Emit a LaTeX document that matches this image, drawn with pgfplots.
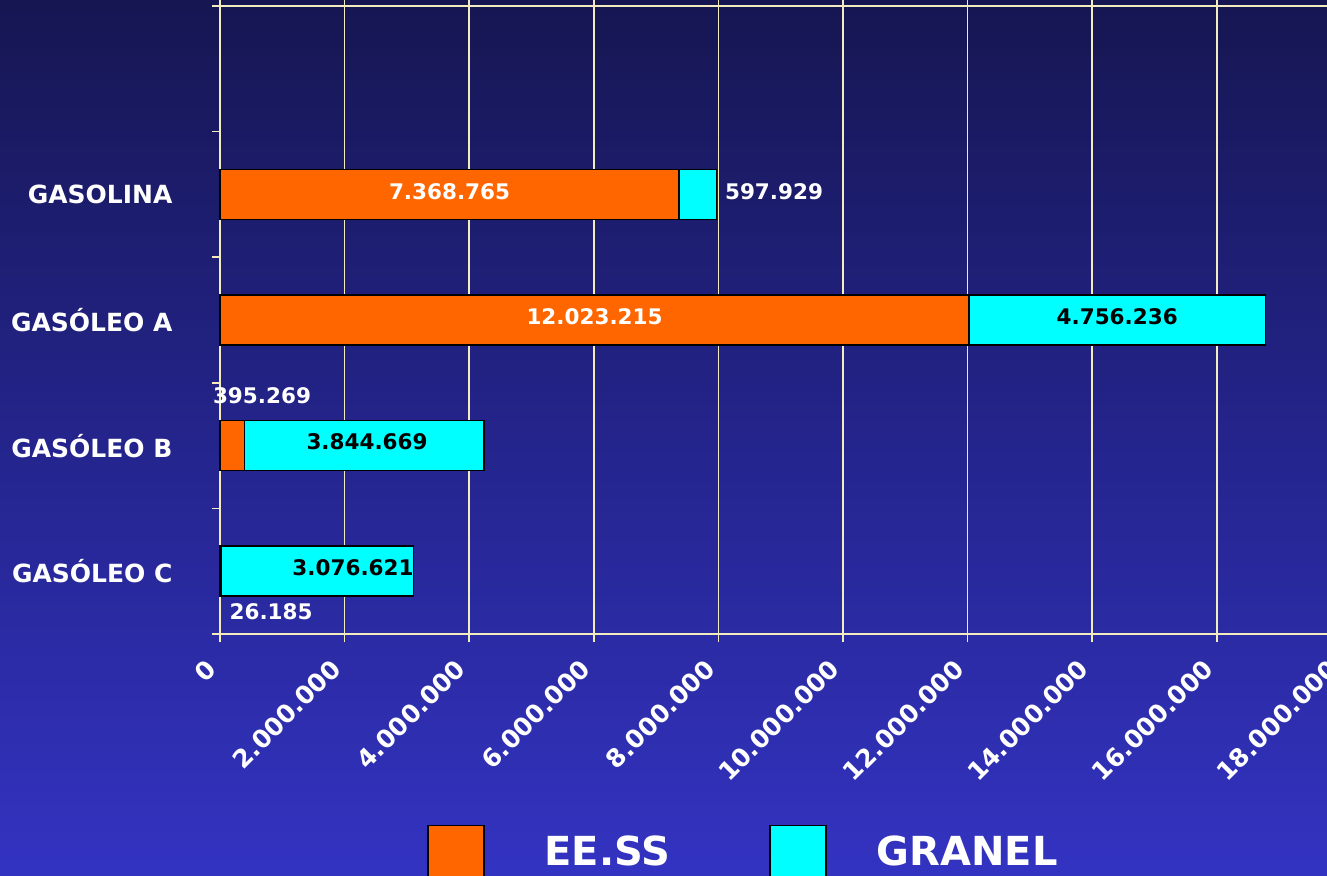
\documentclass[border=0pt]{standalone}
\usepackage{fontspec}
\setmainfont{DejaVu Sans}
\usepackage{pgfplots}
\pgfplotsset{compat=1.18}
\definecolor{bgtop}{RGB}{22,22,82}
\definecolor{bgmid}{RGB}{36,36,140}
\definecolor{bgbot}{RGB}{51,51,194}
\definecolor{cream}{RGB}{242,236,190}
\definecolor{eess}{RGB}{255,102,0}
\definecolor{granel}{RGB}{0,255,255}
\begin{document}
\begin{tikzpicture}
\shade[top color=bgtop, bottom color=bgbot, middle color=bgmid] (0pt,0pt) rectangle (1327pt,-875pt);
\begin{axis}[
  at={(220pt,-6pt)}, anchor=north west,
  scale only axis, width=1121.4pt, height=628pt,
  xbar stacked, bar width=50pt,
  xmin=0, xmax=18000000, ymin=-0.5, ymax=4.5,
  axis line style={cream, line width=1.5pt},
  xtick={0,2000000,4000000,6000000,8000000,10000000,12000000,14000000,16000000,18000000},
  scaled x ticks=false,
  /pgf/number format/fixed,
  /pgf/number format/1000 sep={.},
  /pgf/number format/assume math mode=true,
  xmajorgrids, grid style={cream, line width=1.5pt},
  tick align=outside, major tick length=8pt,
  tick style={cream, line width=1.5pt},
  ytick={-0.5,0.5,1.5,2.5,3.5,4.5}, yticklabels={},
  extra y ticks={0,1,2,3},
  extra y tick labels={GASÓLEO C,GASÓLEO B,GASÓLEO A,GASOLINA},
  extra y tick style={major tick length=0pt,
     yticklabel style={font=\bfseries\fontsize{25}{25}\selectfont, text=white, anchor=east, xshift=-44pt}},
  xticklabel style={font=\bfseries\fontsize{25}{25}\selectfont, text=white, xshift=-6pt, yshift=-20pt, rotate=45, anchor=east},
  legend style={at={(0.1846,-0.304)}, anchor=north west, draw=none, fill=none,
     inner sep=0pt, outer sep=0pt,
     font=\bfseries\fontsize{40}{40}\selectfont, text=white,
     legend columns=2,
     /tikz/column 1/.style={column sep=58pt},
     /tikz/column 2/.style={column sep=97pt},
     /tikz/column 3/.style={column sep=48pt}},
  legend image code/.code={\draw[#1, line width=1.5pt] (0pt,-40pt) rectangle (56pt,26pt);},
  clip=false,
]
\addplot[fill=eess, draw=black, line width=1.5pt] coordinates {(26185,0) (395269,1) (12023215,2) (7368765,3)};
\addplot[fill=granel, draw=black, line width=1.5pt] coordinates {(3076621,0) (3844669,1) (4756236,2) (597929,3)};
\legend{EE.SS,GRANEL}
\coordinate (a1) at (axis cs:3684382,3.02);
\coordinate (a2) at (axis cs:8050000,3.02);
\coordinate (b1) at (axis cs:6011607,2.03);
\coordinate (b2) at (axis cs:14401333,2.03);
\coordinate (c1) at (axis cs:674000,1.40);
\coordinate (c2) at (axis cs:2360000,1.03);
\coordinate (d2) at (axis cs:2135000,0.03);
\coordinate (d1) at (axis cs:820000,-0.32);
\end{axis}
\begin{scope}[every node/.style={font=\bfseries\fontsize{21.5}{21.5}\selectfont}]
\node[text=white] at (a1) {7.368.765};
\node[text=white, anchor=west] at (a2) {597.929};
\node[text=white] at (b1) {12.023.215};
\node[text=black] at (b2) {4.756.236};
\node[text=white] at (c1) {395.269};
\node[text=black] at (c2) {3.844.669};
\node[text=black] at (d2) {3.076.621};
\node[text=white] at (d1) {26.185};
\end{scope}
\pgfresetboundingbox
\useasboundingbox (0pt,0pt) rectangle (1327pt,-875pt);
\end{tikzpicture}
\end{document}
